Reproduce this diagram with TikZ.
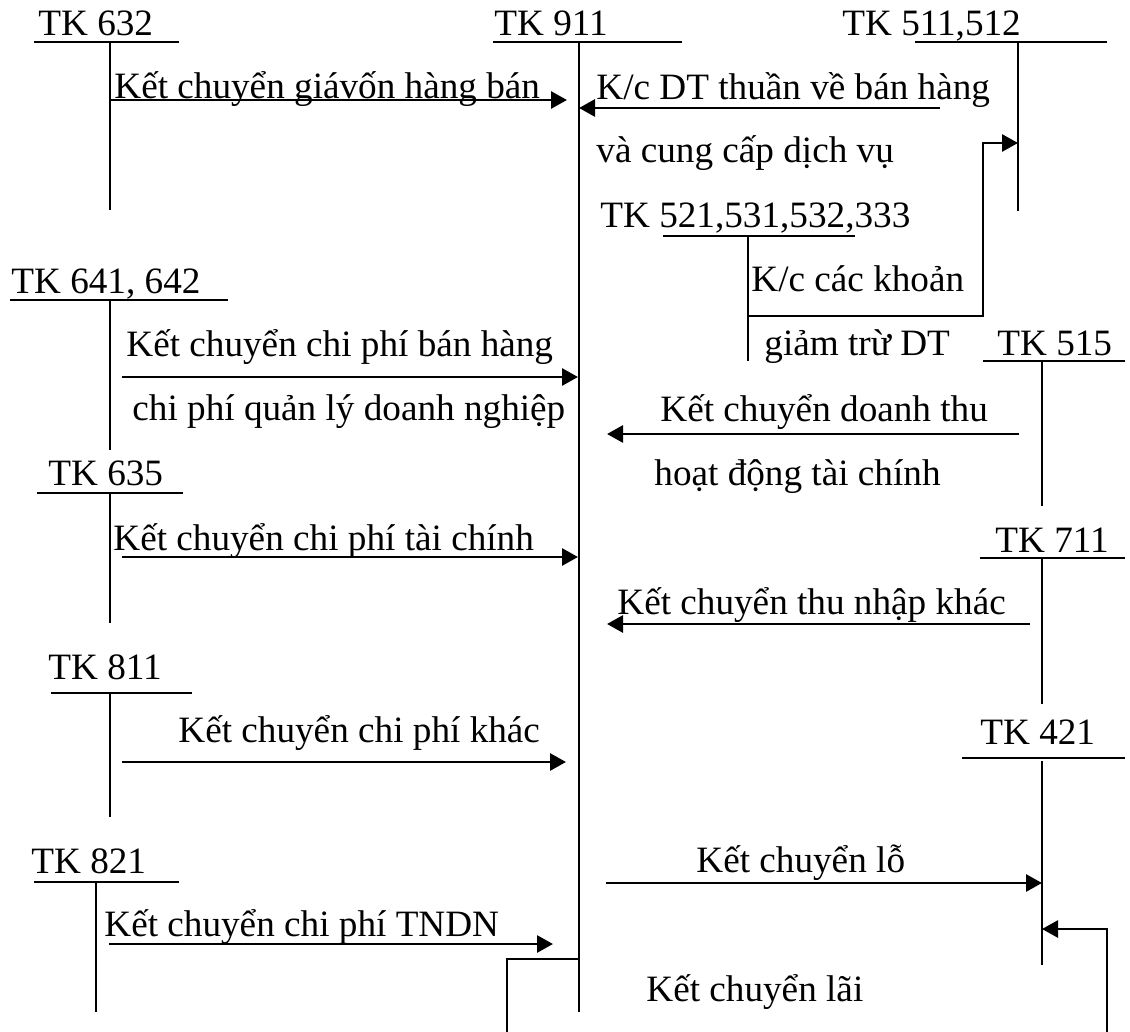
\documentclass[tikz,border=0pt]{standalone}
\usepackage{fontspec}
\setmainfont{Liberation Serif}
\usetikzlibrary{arrows.meta}
\tikzset{
  acc/.style={line width=1pt},
  flow/.style={line width=1.4pt,-{Triangle[length=8pt,width=8.5pt]}},
  lbl/.style={anchor=base west,inner sep=0pt,font=\fontsize{18.6}{20}\selectfont},
}
\begin{document}
\begin{tikzpicture}[x=0.5pt,y=-0.5pt]
        \useasboundingbox (0,0) rectangle (1130,1032);
        % accounts
        \node [lbl] (n632) at (38,36) {TK 632};
        \draw [acc] (34,42) -- (179,42);\draw [acc] (110,42) coordinate (t632) -- (110,210);
        \node [lbl] (n911) at (494,36) {TK 911};
        \draw [acc] (493,42) -- (682,42);\draw [acc] (579,42) coordinate (t911) -- (579,1012);
        \node [lbl] (n511) at (842,36) {TK 511,512};
        \draw [acc] (915,42) -- (1107,42);\draw [acc] (1018,42) coordinate (t511) -- (1018,211);
        \node [lbl] (n521) at (600,228) {TK 521,531,532,333};
        \draw [acc] (663,236) -- (855,236);\draw [acc] (748,236) coordinate (t521) -- (748,361);
        \node [lbl] (n641) at (11,293) {TK 641, 642};
        \draw [acc] (10,300) -- (228,300);\draw [acc] (110,300) coordinate (t641) -- (110,450);
        \node [lbl] (n635) at (48,485) {TK 635};
        \draw [acc] (37,493) -- (183,493);\draw [acc] (110,493) coordinate (t635) -- (110,623);
        \node [lbl] (n811) at (48,679) {TK 811};
        \draw [acc] (51,693) -- (192,693);\draw [acc] (110,693) coordinate (t811) -- (110,817);
        \node [lbl] (n821) at (31,873) {TK 821};
        \draw [acc] (34,882) -- (179,882);\draw [acc] (96,882) coordinate (t821) -- (96,1012);
        \node [lbl] (n515) at (997,356) {TK 515};
        \draw [acc] (983,361) -- (1125,361);\draw [acc] (1042,361) coordinate (t515) -- (1042,506);
        \node [lbl] (n711) at (995,552) {TK 711};
        \draw [acc] (980,558) -- (1125,558);\draw [acc] (1042,558) coordinate (t711) -- (1042,704);
        \node [lbl] (n421) at (980,744) {TK 421};
        \draw [acc] (962,758) -- (1125,758);\draw [acc] (1042,761) coordinate (t421) -- (1042,965);
        % end points
        \coordinate (s1) at (110,100); \coordinate (e1) at (567,100);
        \coordinate (s2) at (940,108); \coordinate (e2) at (579,108);
        \coordinate (s3) at (748,316); \coordinate (c3) at (983,316); \coordinate (e3) at (1018,143);
        \coordinate (s4) at (122,377); \coordinate (e4) at (578,377);
        \coordinate (s5) at (1019,434); \coordinate (e5) at (607,434);
        \coordinate (s6) at (122,557); \coordinate (e6) at (578,557);
        \coordinate (s7) at (1030,624); \coordinate (e7) at (607,624);
        \coordinate (s8) at (122,762); \coordinate (e8) at (566,762);
        \coordinate (s9) at (606,883); \coordinate (e9) at (1042,883);
        \coordinate (s10) at (109,944); \coordinate (e10) at (553,944);
        \coordinate (s11) at (579,959); \coordinate (c11) at (507,1032);
        \coordinate (s12) at (1107,1032); \coordinate (e12) at (1042,929);
        % arrows
        \draw [flow] (s1) -- (e1);
        \draw [flow] (s2) -- (e2);
        \draw [flow] (s3) -- (c3) |- (e3);
        \draw [flow] (s4) -- (e4);
        \draw [flow] (s5) -- (e5);
        \draw [flow] (s6) -- (e6);
        \draw [flow] (s7) -- (e7);
        \draw [flow] (s8) -- (e8);
        \draw [flow] (s9) -- (e9);
        \draw [flow] (s10) -- (e10);
        \draw [acc] (s11) -| (c11);
        \draw [flow] (s12) |- (e12);
        % text
        \node [lbl] (k1) at (114,99) {Kết chuyển giávốn hàng bán};
        \node [lbl] (k2) at (596,100) {K/c DT thuần về bán hàng};
        \node [lbl] (k2b) at (596,163) {và cung cấp dịch vụ};
        \node [lbl] (k3) at (751,292) {K/c các khoản};
        \node [lbl] (k3b) at (764,356) {giảm trừ DT};
        \node [lbl] (k4) at (126,357) {Kết chuyển chi phí bán hàng};
        \node [lbl] (k4b) at (132,420) {chi phí quản lý doanh nghiệp};
        \node [lbl] (k5) at (660,422) {Kết chuyển doanh thu};
        \node [lbl] (k5b) at (654,485) {hoạt động tài chính};
        \node [lbl] (k6) at (113,550) {Kết chuyển chi phí tài chính};
        \node [lbl] (k7) at (617,614) {Kết chuyển thu nhập khác};
        \node [lbl] (k8) at (178,742) {Kết chuyển chi phí khác};
        \node [lbl] (k9) at (696,872) {Kết chuyển lỗ};
        \node [lbl] (k10) at (104,936) {Kết chuyển chi phí TNDN};
        \node [lbl] (k11) at (646,1001) {Kết chuyển lãi};
\end{tikzpicture}
\end{document}
